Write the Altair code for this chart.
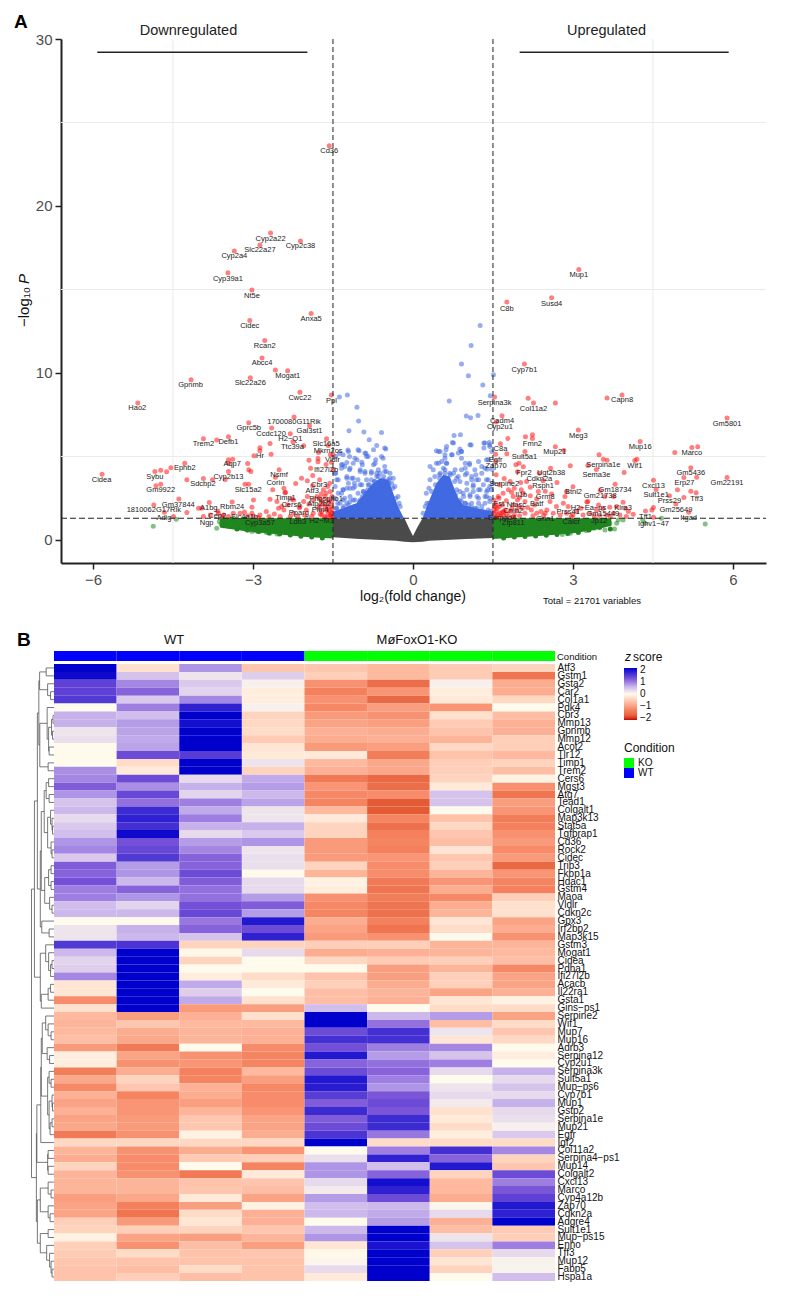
import altair as alt
import pandas as pd

FONT = "Liberation Sans"

# ---------- volcano data (log2FC, -log10 P) ----------
red_labeled = [
 (-1.57,23.6),(-2.67,18.38),(-2.87,17.66),(-2.11,17.9),(-3.35,17.3),(-3.47,16.0),(-3.02,14.97),
 (3.11,16.2),(2.6,14.5),(1.76,14.25),
 (-5.16,8.2),(-4.16,9.6),(-1.91,13.56),(-3.06,13.14),(-2.78,11.94),(-2.83,10.9),(-2.35,10.14),(-2.58,10.18),
 (-3.05,9.72),(-2.12,8.84),(-1.53,8.68),(-2.23,7.36),(-3.08,7.02),(-1.94,6.84),(-2.65,6.7),(-2.3,6.36),
 (-2.25,5.88),(-3.93,6.06),(-3.46,6.18),(-3.68,5.98),(-1.62,6.06),(-1.59,5.66),(-1.5,5.1),(-3.38,4.84),
 (-1.63,4.52),(-4.28,4.6),(-5.83,3.94),(-4.84,4.1),(-4.73,3.34),(-3.93,3.68),(-3.46,4.1),(-3.08,3.34),
 (-2.51,4.2),(-2.58,3.76),(-1.75,3.6),(-1.88,3.24),(-2.39,2.84),(-1.63,2.8),(-1.75,2.5),(-2.28,2.46),
 (-2.13,1.92),(-1.74,2.1),(-1.71,1.48),(-2.16,1.4),(-3.16,1.68),(-3.66,1.74),(-3.39,2.28),(-3.82,2.24),
 (-4.39,2.46),(-4.86,2.1),(-4.66,1.66),
 (3.92,8.68),(3.64,8.5),(2.09,10.54),(1.53,8.56),(2.26,8.2),(2.16,8.48),(2.67,8.2),(1.67,7.44),(1.56,7.06),
 (5.89,7.3),(3.1,6.58),(2.24,6.3),(2.11,6.18),(2.24,6.08),(4.26,5.9),(1.64,5.76),(2.67,5.58),(2.83,5.36),
 (5.23,5.54),(5.34,5.58),(4.91,5.24),(2.1,5.3),(1.55,5.14),(1.55,4.72),(4.2,4.84),(4.16,4.76),(3.57,4.84),
 (3.64,4.78),(3.49,5.1),(3.44,4.22),(5.21,4.32),(5.08,3.74),(5.89,3.74),(5.32,3.76),(1.99,4.6),(1.93,4.5),
 (2.07,4.38),(2.58,4.3),(2.37,4.0),(2.44,3.54),(1.71,3.68),(3.79,3.34),(4.51,3.58),(4.56,3.02),(5.31,2.82),
 (5.21,2.92),(4.81,2.64),(5.08,2.54),(4.96,3.0),(3.51,2.96),(3.0,3.18),(2.48,2.92),(2.03,3.0),(1.96,2.4),
 (2.32,2.46),(1.61,2.5),(1.88,2.1),(3.26,2.28),(3.94,2.26),(4.93,2.16),(3.56,1.88),(2.91,2.0),(4.36,1.74),
 (5.17,1.66),(4.51,1.36),(1.67,1.66),(1.88,1.36),(2.48,1.6),(2.97,1.4),(3.5,1.46),
]
red_left = [
 (-2.68,5.78),(-2.66,5.14),(-2.87,5.52),(-2.87,5.34),(-2.98,5.04),(-2.05,5.64),(-3.1,4.58),(-3.08,4.2),
 (-3.04,4.1),(-3.46,4.8),(-3.46,4.6),(-1.95,4.78),(-1.78,4.88),(-1.78,4.68),(-1.92,4.3),(-1.88,3.86),
 (-1.98,3.54),(-2.09,3.7),(-2.2,3.38),(-1.77,5.24),(-1.53,4.66),(-1.5,4.2),(-1.55,5.1),(-4.73,4.18),
 (-4.62,4.08),(-4.54,4.32),(-4.82,3.24),(-4.24,3.6),(-3.76,3.6),(-3.52,3.62),(-3.15,3.34),(-2.63,3.0),
 (-2.42,3.1),(-2.4,2.84),(-2.68,2.44),(-2.99,2.4),(-3.02,1.96),(-2.52,1.9),(-2.46,2.0),(-2.42,1.8),
 (-2.24,2.4),(-2.12,2.0),(-1.98,2.6),(-1.87,2.4),(-1.68,3.0),(-1.65,2.6),(-1.55,2.9),(-1.52,2.6),
 (-1.59,2.4),(-1.68,2.2),(-1.77,1.9),(-1.62,1.8),(-1.52,2.0),(-1.71,1.7),(-1.59,1.6),(-1.52,1.6),
 (-1.65,1.4),(-1.54,1.4),(-1.87,1.6),(-2.0,1.8),(-2.03,1.5),(-2.24,1.6),(-2.3,1.4),(-2.49,1.4),
 (-2.75,1.7),(-2.87,1.5),(-3.02,1.6),(-3.0,1.4),(-3.24,1.6),(-3.37,1.6),(-3.46,1.4),(-3.55,1.5),
 (-3.58,1.4),(-3.65,1.6),(-3.8,1.5),(-3.93,1.4),(-4.02,1.9),(-3.96,1.9),(-4.24,1.64),(-4.49,1.4),
 (-1.6,3.2),(-1.72,2.75),(-1.56,3.4),(-1.8,2.6),(-1.58,2.2),(-1.65,2.0),(-1.74,1.55),(-1.56,1.75),
 (-1.6,1.95),(-1.52,1.85),(-1.52,2.3),(-1.72,2.35),(-2.7,1.4),(-2.9,1.35),(-3.1,1.45),(-2.6,1.55),
 (-1.9,1.4),(-1.95,2.15),(-2.05,2.3),(-2.35,2.1),(-2.55,2.3),(-1.55,1.5),(-1.52,1.35),(-1.62,1.35),
]
red_right = [
 (1.78,6.08),(1.76,5.16),(1.56,3.9),(1.82,3.5),(1.96,4.08),(2.13,3.5),(2.02,3.44),(2.07,2.8),(1.79,3.0),
 (1.69,2.8),(1.88,2.6),(1.6,2.6),(1.54,2.0),(1.56,1.7),(1.63,1.6),(1.73,1.8),(1.82,1.7),(1.6,1.5),(1.98,2.0),
 (2.1,2.3),(2.22,1.8),(2.32,1.6),(2.1,1.6),(2.51,1.8),(2.63,1.6),(2.69,2.0),(2.7,3.44),(2.35,2.9),(2.85,2.6),
 (2.88,2.9),(2.95,4.44),(3.28,4.46),(3.6,2.6),(3.76,2.6),(3.28,2.3),(3.48,2.1),(3.82,2.0),(3.98,1.9),
 (4.13,1.54),(4.04,1.7),(4.48,1.8),(4.51,1.94),(3.96,4.04),(2.76,1.5),(2.88,1.6),(3.07,1.7),(3.19,1.5),
 (3.32,1.6),(3.63,1.5),(3.76,1.6),(3.88,1.5),(3.69,1.96),(3.44,1.8),(2.57,2.3),(2.82,2.2),(1.55,1.4),
 (1.52,1.6),(1.52,1.85),(1.58,1.9),(1.65,1.4),(1.55,2.15),(1.62,2.0),(1.7,1.45),(1.68,2.1),(1.75,1.55),
 (1.8,1.4),(1.85,1.85),(1.9,1.5),(1.95,1.75),(2.0,1.45),(2.05,1.9),(2.15,1.95),(2.25,1.45),(2.28,2.1),
 (2.4,1.7),(2.45,1.45),(1.52,2.4),(1.62,3.3),(1.75,2.35),(1.9,3.1),(2.0,2.55),(2.2,2.65),(1.85,2.85),
 (3.0,1.5),(3.15,1.9),(3.4,1.45),(3.7,1.4),(4.0,1.4),(2.2,3.15),(2.6,2.75),(1.56,1.35),(1.7,1.7),
]
blue_left = [
 (-1.38,8.56),(-1.23,8.68),(-1.05,7.94),(-1.02,7.12),(-1.2,6.54),(-0.92,6.46),(-0.59,6.44),(-0.82,6.0),
 (-0.51,5.44),(-0.68,5.66),(-1.22,5.38),(-1.38,5.18),(-1.01,5.34),(-0.88,5.18),(-1.19,5.0),(-1.24,4.64),
 (-1.32,4.52),(-1.34,4.3),(-1.19,4.2),(-1.12,4.6),(-0.84,5.0),(-0.74,4.5),(-0.59,5.0),(-0.53,4.4),
 (-0.43,4.0),(-0.37,3.7),(-0.99,4.2),(-0.9,4.1),(-0.78,4.0),(-0.68,3.8),(-0.62,4.0),(-0.56,3.6),
 (-0.46,3.6),(-1.12,3.7),(-1.24,3.7),(-1.31,3.0),(-1.43,3.6),(-1.46,3.2),(-1.4,2.8),(-1.24,3.1),
 (-1.12,3.1),(-0.99,3.3),(-0.93,2.9),(-0.84,3.3),(-1.18,2.6),(-1.09,2.4),(-0.99,2.4),(-1.31,2.4),
 (-1.41,2.2),(-1.24,2.2),(-1.44,1.9),(-1.31,1.9),(-1.18,1.9),(-1.09,2.0),(-0.99,1.9),(-0.9,2.0),
 (-0.34,3.2),(-0.28,2.6),(-0.24,2.0),(-1.38,1.6),(-1.24,1.6),(-1.12,1.6),(-0.99,1.6),(-1.46,2.5),
 (-1.45,5.0),(-0.7,4.8),(-1.05,4.8),(-0.95,4.5),(-1.45,4.0),(-1.1,3.4),(-0.72,3.5),(-0.5,4.1),
 (-1.31,3.0),(-1.21,3.4),(-1.15,3.7),(-1.24,3.8),(-0.99,4.1),(-0.9,4.0),(-0.78,4.1),(-0.68,4.0),
 (-1.03,3.6),(-0.96,3.3),(-0.87,3.6),(-0.78,3.6),(-0.65,4.2),(-0.53,4.1),(-0.43,3.7),(-0.4,3.4),
 (-1.18,3.1),(-1.09,3.2),(-1.28,2.5),(-1.37,2.2),(-1.43,1.9),(-1.21,2.1),(-1.12,2.4),(-1.03,2.8),
 (-0.93,2.9),(-1.34,2.8),(-1.4,3.6),(-1.46,4.0),(-1.28,4.4),(-1.18,4.3),(-1.34,4.5),(-0.96,4.66),
 (-1.09,4.9),(-0.87,5.0),(-0.74,5.4),(-0.9,5.2),(-0.71,4.6),(-0.56,4.9),(-0.53,5.5),(-1.03,5.4),
 (-1.21,5.3),(-1.31,5.1),(-1.42,1.5),(-1.35,1.7),(-1.28,1.5),(-1.22,1.8),(-1.15,1.5),(-1.1,2.0),
 (-1.05,1.9),(-1.0,2.3),(-0.95,2.6),(-0.9,2.8),(-0.85,3.0),(-0.82,3.3),(-0.72,3.5),(-0.65,3.8),
 (-0.55,3.8),(-0.45,3.4),(-0.38,3.1),(-0.32,2.5),(-0.26,2.2),(-1.3,2.0),(-1.18,2.3),
]
blue_right = [
 (1.26,12.84),(1.09,11.64),(0.91,10.54),(1.04,9.84),(1.51,9.9),(1.31,9.28),(1.45,8.64),(0.68,8.32),
 (1.22,7.46),(1.0,7.42),(1.08,7.32),(0.77,6.26),(0.89,6.3),(1.33,5.8),(1.43,5.84),(0.74,5.84),(1.09,5.68),
 (0.88,5.44),(0.44,5.34),(0.51,5.3),(0.62,5.4),(1.33,5.5),(1.44,5.6),(1.48,5.3),(0.91,5.3),(0.73,5.1),
 (0.6,4.9),(0.48,4.6),(0.63,4.6),(1.06,4.6),(1.23,4.7),(1.38,4.8),(0.91,4.9),(0.32,4.4),(0.38,4.2),
 (0.57,4.3),(0.79,4.2),(0.98,4.3),(1.06,4.5),(1.16,4.2),(1.29,4.4),(1.39,4.24),(1.48,4.24),(0.69,4.0),
 (0.5,3.9),(0.32,3.6),(1.1,3.6),(1.23,3.6),(1.41,3.6),(1.01,3.4),(0.88,3.5),(1.13,3.3),(1.32,3.3),
 (1.01,3.0),(1.13,2.9),(1.26,3.0),(1.38,2.9),(1.47,3.0),(0.95,2.6),(1.07,2.6),(1.2,2.6),(1.35,2.6),
 (1.44,2.5),(0.98,2.2),(1.1,2.2),(1.23,2.2),(1.35,2.2),(0.26,2.2),(0.23,2.0),(0.19,1.6),(0.92,2.0),
 (1.2,1.9),(0.85,3.8),(1.4,3.0),(0.25,2.8),(0.3,3.1),(0.98,3.9),(1.18,3.9),(0.88,2.9),(1.5,3.4),
 (0.44,4.6),(0.54,4.7),(0.63,4.6),(0.6,5.1),(0.48,5.3),(0.73,5.1),(0.63,5.6),(0.76,5.8),(0.85,5.2),
 (0.91,5.3),(1.07,5.7),(1.35,5.8),(1.44,5.7),(0.98,4.6),(0.91,4.2),(1.01,4.0),(1.1,3.8),(1.19,3.6),
 (1.29,4.0),(1.35,4.3),(1.41,4.8),(1.13,3.2),(1.23,3.0),(1.38,3.6),(1.44,3.2),(0.82,3.0),(0.94,2.8),
 (1.07,2.7),(1.23,2.5),(1.38,2.6),(1.44,2.3),(0.91,2.3),(1.04,2.1),(1.16,1.9),(1.29,2.0),(1.41,1.8),
 (0.85,2.1),(0.76,4.0),(0.82,3.7),(0.6,4.2),(0.51,4.0),(0.41,3.8),(0.3,2.2),(0.35,2.9),(0.42,3.3),
 (0.5,3.7),(0.6,4.0),(0.7,3.9),(0.78,3.5),(0.8,2.7),(0.88,2.4),(0.98,2.2),(1.1,1.95),(1.3,1.75),(1.45,1.7),
]
green_pts = [
 (5.48,0.96),(4.66,1.3),(4.31,1.2),(4.35,1.0),(-4.44,1.24),(-4.87,0.82),(-3.68,0.7),(-3.63,1.1),(-3.49,1.2),
 (-3.46,0.8),(-3.33,0.8),(-3.27,1.1),(-3.12,0.6),(-3.02,0.5),(-2.87,0.5),(-2.68,0.4),(-2.55,0.35),(-3.6,0.95),
 (-3.4,1.0),(-3.2,0.75),(-2.95,0.55),(-2.75,0.45),
 (3.78,0.66),(3.6,0.6),(3.48,0.8),(3.69,1.0),(3.82,1.0),(3.85,1.2),(3.57,1.1),(3.94,1.2),(3.4,0.7),
 (3.25,0.55),(3.1,0.45),(2.95,0.4),(2.8,0.32),
]
green_edge = [
 (-3.55,0.85),(-3.3,0.65),(-3.1,0.6),(-2.9,0.5),(-2.7,0.42),(-2.5,0.35),(-2.3,0.3),(-2.1,0.22),(-1.9,0.18),
 (-1.7,0.12),(1.7,0.12),(1.9,0.18),(2.1,0.2),(2.3,0.24),(2.5,0.28),(2.7,0.33),(2.9,0.38),(3.1,0.46),
 (3.3,0.6),(3.5,0.75),(3.7,0.66),(-3.4,1.25),(-3.15,1.25),(-3.55,1.15),
]
gray_x  = [-1.5,-1.0,-0.6,-0.32,-0.16,-0.08,0.0,0.08,0.18,0.3,0.6,1.0,1.5]
gray_lo = [0.16,0.05,0.0,-0.05,-0.1,-0.12,-0.14,-0.12,-0.1,-0.05,0.0,0.05,0.12]
gray_hi = [1.3,1.3,1.3,1.3,1.3,0.75,0.24,0.75,1.3,1.3,1.3,1.3,1.3]
green_l_x  = [-3.62,-3.2,-2.8,-2.4,-2.0,-1.5]
green_l_lo = [0.75,0.55,0.42,0.3,0.18,0.08]
green_l_hi = [1.3,1.3,1.3,1.3,1.3,1.3]
green_r_x  = [1.5,2.0,2.5,3.0,3.4,3.72]
green_r_lo = [0.05,0.16,0.26,0.4,0.6,0.85]
green_r_hi = [1.3,1.3,1.3,1.3,1.3,1.3]
blue_core_l_x  = [-1.49,-1.31,-1.06,-0.93,-0.78,-0.62,-0.46,-0.37,-0.28,-0.17]
blue_core_l_lo = [1.3,1.3,1.3,1.3,1.3,1.3,1.3,1.3,1.3,1.3]
blue_core_l_hi = [1.7,1.9,2.2,2.7,3.3,3.7,3.6,2.8,2.0,1.3]
blue_core_r_x  = [0.18,0.26,0.35,0.44,0.57,0.69,0.76,0.85,0.94,1.19,1.5]
blue_core_r_lo = [1.3,1.3,1.3,1.3,1.3,1.3,1.3,1.3,1.3,1.3,1.3]
blue_core_r_hi = [1.3,2.0,2.7,3.4,3.9,3.8,3.2,2.5,2.1,1.9,1.7]
volcano_labels = [
 ("Cd36",-1.57,23.28),("Cyp2a22",-2.67,18.03),("Slc22a27",-2.87,17.37),("Cyp2c38",-2.11,17.6),("Cyp2a4",-3.35,17.0),
 ("Cyp39a1",-3.47,15.65),("Nt5e",-3.02,14.63),("Mup1",3.11,15.85),("Susd4",2.6,14.14),("C8b",1.76,13.83),
 ("Hao2",-5.17,7.9),("Gpnmb",-4.17,9.26),("Anxa5",-1.91,13.24),("Cidec",-3.06,12.82),("Rcan2",-2.78,11.6),
 ("Abcc4",-2.83,10.58),("Mogat1",-2.35,9.8),("Slc22a26",-3.05,9.42),("Cwc22",-2.12,8.52),("Ppl",-1.53,8.34),
 ("1700080G11Rik",-2.23,7.04),("Gprc5b",-3.08,6.68),("Gal3st1",-1.94,6.52),("Ccdc120",-2.66,6.36),("H2\u2212Q1",-2.3,6.02),
 ("Ttc39a",-2.26,5.56),("Trem2",-3.93,5.74),("Defb1",-3.46,5.84),("Slc16a5",-1.63,5.74),("Mkrn2os",-1.59,5.32),
 ("Hr",-2.87,5.0),("Vldlr",-1.51,4.76),("Aqp7",-3.39,4.52),("Ifi27l2b",-1.63,4.18),("Ephb2",-4.28,4.3),
 ("Cidea",-5.84,3.6),("Sybu",-4.84,3.76),("Gm9922",-4.73,3.0),("Sdcbp2",-3.94,3.34),("Cyp2b13",-3.46,3.76),
 ("Slc15a2",-3.09,3.02),("Nsmf",-2.51,3.86),("Corin",-2.58,3.42),("Cbr3",-1.76,3.28),("Atf3",-1.89,2.92),
 ("Timp1",-2.39,2.54),("Phospho1",-1.63,2.48),("Atp2b2",-1.76,2.18),("Cers6",-2.28,2.12),("Pparg",-2.14,1.6),
 ("Plin4",-1.74,1.78),("H2\u2212M3",-1.71,1.16),("Ldb3",-2.16,1.06),("Cyp3a57",-2.87,1.02),("Slc4a1b",-3.16,1.36),
 ("Cep2",-3.67,1.42),("Ngp",-3.87,1.0),("Rbm24",-3.39,1.96),("A1bg",-3.83,1.9),("Gm37844",-4.4,2.12),
 ("1810062G17Rik",-4.86,1.78),("Adig",-4.67,1.32),
 ("Capn8",3.92,8.36),("Cyp7b1",2.09,10.2),("Serpina3k",1.53,8.2),("Col11a2",2.26,7.86),("Cadm4",1.67,7.1),
 ("Cyp2u1",1.63,6.74),("Gm5801",5.89,6.96),("Meg3",3.1,6.24),("Fmn2",2.24,5.76),("Mup16",4.26,5.56),
 ("C8a",1.64,5.44),("Mup21",2.66,5.24),("Marco",5.23,5.2),("Sult5a1",2.09,4.98),("Egfr",1.55,4.8),
 ("Zap70",1.56,4.4),("Wif1",4.16,4.42),("Serpina1e",3.57,4.5),("Sema3e",3.44,3.88),("Gm5436",5.21,4.0),
 ("Erp27",5.09,3.42),("Gm22191",5.89,3.42),("Fpr2",2.08,4.02),("Ugt2b38",2.59,3.98),("Cdkn2a",2.37,3.64),
 ("Rsph1",2.44,3.22),("Serpine2",1.71,3.34),("Gm18734",3.79,3.0),("Cxcl13",4.51,3.24),("Sult1e1",4.56,2.7),
 ("Tff3",5.32,2.48),("Prss29",4.81,2.32),("Gm21738",3.51,2.62),("Btnl2",3.01,2.86),("Grm8",2.48,2.6),
 ("Il1b",2.03,2.68),("Nfasc",1.94,2.08),("Batf",2.32,2.14),("Fst",1.61,2.18),("Cnih2",1.88,1.76),
 ("H2\u2212Ea\u2212ps",3.29,1.94),("Klra3",3.94,1.92),("Gm25649",4.93,1.82),("Gm15449",3.56,1.56),("Prss41",2.91,1.66),
 ("Tff1",4.36,1.4),("Itgad",5.17,1.32),("Ighv1\u221247",4.51,0.96),("Serpad4",1.67,1.34),("Zfp811",1.88,1.0),
 ("Gnn1",2.48,1.28),("Calcr",2.97,1.1),("Jp12",3.49,1.14),
]
grid_x = [-4.5, 4.5]
grid_y = [5, 15, 25]
v_cut = [-1.5, 1.5]
h_cut = [1.3]
bars = [(-5.92,-1.98,29.2),(2.0,5.92,29.2)]
bar_titles = [("Downregulated",-4.21,30.45),("Upregulated",3.63,30.45)]

# ---------- heatmap data ----------
genes = ["Atf3","Gstm1","Gsta2","Car2","Col1a1","Pdk4","Cbr3","Mmp13","Gpnmb","Mmp12","Acot2","Tlr12","Timp1","Trem2",
 "Cers6","Mgst3","Atg7","Tead1","Colgalt1","Map3k13","Stat5a","Tgfbrap1","Cd36","Rock2","Cidec","Trib3","Fkbp1a","Hdac1",
 "Gstm4","Maoa","Vldlr","Cdkn2c","Gpx3","Irf2bp2","Map3k15","Gstm3","Mogat1","Cidea","Pdha1","Ifi27l2b","Acacb","Il22ra1",
 "Gsta1","Gins\u2212ps1","Serpine2","Wif1","Mup7","Mup16","Adrb3","Serpina12","Cyp2u1","Serpina3k","Sult5a1","Mup\u2212ps6",
 "Cyp7b1","Mup1","Gstp2","Serpina1e","Mup21","Egfr","Igf2","Col11a2","Serpina4\u2212ps1","Mup14","Colgalt2","Cxcl13","Marco",
 "Cyp4a12b","Zap70","Cdkn2a","Adgre4","Sult1e1","Mup\u2212ps15","Enho","Tff3","Mup12","Fabp5","Hspa1a"]
samples = ["WT1","WT2","WT3","WT4","KO1","KO2","KO3","KO4"]
z = [
 [2.2,-0.3,0.85,-0.6,-0.6,-0.75,-0.55,-0.45],[2.1,0.5,0.2,0.4,-0.5,-0.75,-0.55,-1.55],[1.5,0.95,0.45,0.1,-1.2,-1.65,0.1,-0.9],
 [1.5,1.2,0.35,-0.15,-1.4,-1.15,-0.15,-0.9],[1.6,0.45,0.95,-0.15,-1.2,-1.7,-0.2,-0.4],[0,1.0,1.85,0.1,-1.3,-1.05,-1.15,0],
 [0.65,0.55,2.2,-0.45,-1.1,-1.2,-0.3,-0.7],[0.65,0.8,2.05,-0.4,-1.0,-1.05,-0.55,-0.85],[0.2,0.75,2.2,-0.35,-0.85,-0.9,-0.65,-0.85],
 [0.25,0.7,2.2,-0.55,-0.9,-0.85,-0.8,-0.5],[0,0.75,2.2,-0.25,-1.1,-1.05,-0.4,-0.5],[0,1.4,1.55,-0.2,-0.2,-1.45,-0.65,-0.75],
 [0,-0.35,2.2,0.2,-0.75,-0.95,-0.5,-0.45],[0.9,-0.2,2.2,-0.45,-0.85,-0.95,-0.5,-0.7],[0.95,1.4,0.3,0.7,-1.5,-1.7,-0.45,-0.1],
 [1.25,0.9,0.65,0.8,-1.15,-1.65,-0.2,-1.2],[0.85,1.45,0.35,0.6,-1.3,-1.25,0.5,-1.55],[0.5,1.1,1.0,0.75,-1.35,-1.9,0.5,-1.05],
 [0.6,1.75,0.7,0.2,-0.75,-1.9,0,-1.15],[0.3,1.85,1.0,0.2,-0.2,-1.35,-0.65,-1.45],[0.45,1.7,0.65,0.65,-0.45,-1.6,-0.4,-1.4],
 [0.55,2.1,0.3,0.45,-0.45,-1.4,-0.6,-1.2],[0.85,1.35,0.8,0.85,-1.1,-1.35,-0.7,-1.1],[0.95,1.45,0.95,0.2,-1.1,-1.4,-0.25,-1.25],
 [0.45,1.6,1.2,0.25,-1.1,-1.15,-0.6,-1.1],[1.25,0.8,1.2,0.25,-0.45,-1.25,-0.5,-1.7],[1.2,0.85,1.4,0,-0.8,-1.25,-0.8,-1.15],
 [1.35,0.6,1.25,0.3,-0.1,-1.5,-1.15,-1.35],[1.0,1.2,1.1,0.3,-0.15,-1.55,-0.9,-1.4],[1.0,0.85,1.1,0.8,-1.2,-1.45,-1.3,-0.5],
 [0.55,0.35,1.35,1.25,-1.3,-1.55,-0.9,-0.3],[0.6,0.6,1.45,0.8,-1.35,-1.6,-0.8,-0.3],[0,-0.02,1.05,1.95,-0.9,-1.4,-0.25,-1.0],
 [0.2,0.65,1.2,1.4,-1.0,-1.55,-0.35,-0.9],[0.2,0.6,0.5,1.85,-1.1,-1.2,0.02,-1.2],[1.6,1.65,-0.45,-0.45,-0.5,-0.5,-0.8,-0.8],
 [0.6,2.2,-0.05,0.3,-0.9,-0.85,-0.8,-0.75],[0.35,2.2,-0.45,0,-0.4,-0.55,-0.5,-0.7],[0.4,2.2,0,0,0,-1.05,-0.8,-1.3],
 [0.95,2.2,-0.15,-0.35,-0.65,-1.05,-0.5,-1.0],[-0.25,2.2,0.7,-0.2,-0.5,-0.9,-0.5,-1.0],[-0.25,2.2,0.4,0,-0.7,-0.8,-1.0,-0.85],
 [-1.25,2.2,0.7,-0.3,-0.7,-0.85,-0.25,-0.1],[-0.3,2.2,-1.1,-1.05,0.55,0,-0.35,-0.35],[-0.75,-1.05,-0.85,-0.3,2.2,0.6,0.8,-1.0],
 [-0.8,-0.6,-0.75,-0.75,2.2,1.1,-0.7,-0.35],[-0.75,-0.9,-0.8,-0.85,1.4,1.7,0.2,-0.6],[-0.7,-0.95,-0.8,-0.85,1.7,1.7,-0.25,-0.4],
 [-1.1,-1.5,0,-1.25,1.35,1.0,0.95,0],[-0.15,-1.0,-1.2,-1.35,1.95,0.8,0.5,-0.15],[-0.15,-1.2,-1.15,-1.35,1.2,1.1,1.0,0],
 [-1.45,-0.9,-1.4,-0.75,1.4,1.2,0.3,0.65],[-0.95,-0.45,-1.35,-1.05,1.95,1.0,0,0.3],[-1.3,-0.6,-0.85,-1.3,1.9,0.85,0.2,0.5],
 [-0.85,-1.35,-0.9,-1.25,1.55,1.3,0.3,0.3],[-1.0,-1.15,-1.05,-1.25,1.25,1.4,0.15,0.65],[-0.85,-1.15,-0.8,-1.15,1.75,1.3,-0.3,0.3],
 [-1.0,-1.1,-0.6,-1.0,1.25,1.75,-0.2,0.25],[-0.95,-1.1,-0.6,-1.0,1.4,1.75,-0.35,0.1],[-1.5,-1.2,-0.1,-0.9,1.65,1.05,-0.15,0.45],
 [-0.4,-0.4,-0.4,-0.4,2.2,-0.35,-0.35,-0.35],[-0.8,-1.2,-0.9,-1.15,0,1.0,1.7,0.95],[-0.9,-1.25,-0.55,-0.5,0.25,1.85,1.2,-0.45],
 [-0.45,-1.25,0,-1.35,0.85,0.55,1.95,-0.6],[-0.8,-1.2,-1.5,-0.2,0.85,1.2,-0.45,1.4],[-0.8,-0.8,-0.65,-0.6,0.3,2.05,-0.75,1.0],
 [-0.8,-0.8,-0.6,-0.7,0.15,1.85,-0.75,1.3],[-1.05,-0.95,-0.2,-1.0,0.8,1.4,-0.9,1.5],[-1.0,-1.4,-1.05,-0.1,0.55,0.6,0.05,1.95],
 [-1.0,-1.55,-0.35,-0.85,0.6,0.7,0.3,1.85],[-0.5,-1.1,-0.25,-0.85,0,0.8,-0.85,2.2],[-0.45,-0.5,-0.45,-0.6,0.6,2.2,-0.7,-0.55],
 [-0.1,-1.0,-1.05,-0.8,0.85,2.2,0.2,-0.5],[-0.5,-1.2,-0.7,-1.05,-0.25,2.0,0.5,1.0],[-0.55,-0.35,-0.65,-0.6,-0.05,2.2,-0.5,0.3],
 [-0.6,-0.65,-0.65,-0.65,0.05,2.2,-0.25,0.08],[-0.65,-0.7,-0.35,-0.65,0.3,2.2,-0.45,0.08],[-0.65,-0.5,-0.7,-0.65,-0.2,2.2,0,0.55],
]

# dendrogram: [merge height, left, right], leaves are row numbers
g0_4 = [14.7,[8,0,1],[6.5,2,[3.5,3,4]]]
g5_11 = [7,5,[5.5,[2.5,[1,6,7],[1.5,8,9]],[5,10,11]]]
g5_13 = [14.5,g5_11,[6,12,13]]
g14_17 = [8,[5.5,14,15],[5,16,17]]
g18_24 = [6.5,[3.5,18,[2,19,[1.5,20,21]]],[3,22,[2,23,24]]]
g25_31 = [9.5,[5.5,[3,25,26],[3,27,28]],[4.5,29,[2,30,31]]]
g32_34 = [12.5,32,[5,33,34]]
a12 = [14,[13,[10,g14_17,g18_24],g25_31],g32_34]
a1 = [17,[15.5,g0_4,g5_13],a12]
a2 = [14,[8.5,35,[5.5,36,[3.5,[2,37,38],39]]],[13,[6,[3.5,40,41],42],43]]
g44_47 = [8.5,44,[6,45,[3,46,47]]]
g48_50 = [7,48,[4.5,49,50]]
g51_53 = [5,51,[3,52,53]]
g54_59 = [5,[2,54,[1.5,55,56]],[4,[2,57,58],59]]
g44_59 = [13,[12,g44_47,g48_50],[6.5,g51_53,g54_59]]
b1 = [17.5,[13.5,g44_59,60],[6.5,[6,61,62],[6,63,64]]]
b2 = [17,[14,[6,65,[3,66,67]],[6,68,[4,69,70]]],[14,[6,71,72],[7.5,73,[4.5,74,[3,75,[2,76,77]]]]]]
tree = [23,[20,a1,a2],[18,b1,b2]]

segments = []
def walk(node):
    if not isinstance(node, list):
        return 0.0, node + 0.5
    h, l, r = node
    hl, yl = walk(l)
    hr, yr = walk(r)
    segments.append(dict(x=h, x2=h, y=yl, y2=yr))
    segments.append(dict(x=hl, x2=h, y=yl, y2=yl))
    segments.append(dict(x=hr, x2=h, y=yr, y2=yr))
    return h, (yl + yr) / 2
walk(tree)

# ---------- volcano ----------
W, H = 705, 524
xs = alt.Scale(domain=[-6.6, 6.62], nice=False, zero=False)
ys = alt.Scale(domain=[-1.38, 30], nice=False, zero=False)
ax = dict(grid=False, domainWidth=2, domainColor="#222222", tickColor="#222222", tickWidth=1.5, tickSize=6,
          labelColor="#4d4d4d", labelFontSize=15, labelPadding=3, labelFont=FONT, title=None)
X = lambda f: alt.X(f, scale=xs, axis=alt.Axis(values=[-6,-3,0,3,6], **ax))
Y = lambda f: alt.Y(f, scale=ys, axis=alt.Axis(values=[0,10,20,30], **ax))

def pts(rows, color, op=0.5, size=25):
    df = pd.DataFrame(rows, columns=["x","y"])
    return alt.Chart(df).mark_circle(color=color, opacity=op, size=size, stroke=None).encode(x=X("x:Q"), y=Y("y:Q"))

def band(xv, lo, hi, color):
    df = pd.DataFrame(dict(x=xv, lo=lo, hi=hi))
    return alt.Chart(df).mark_area(color=color, opacity=1).encode(x=X("x:Q"), y=Y("lo:Q"), y2="hi:Q")

def note(text, px, py, size=10, color="#111111", align="left", **kw):
    df = pd.DataFrame(dict(t=[text]))
    return alt.Chart(df).mark_text(font=kw.pop("font", FONT), fontSize=size, color=color, align=align,
                                   baseline="middle", **kw).encode(x=alt.value(px), y=alt.value(py), text="t:N")

grid_v = alt.Chart(pd.DataFrame(dict(v=grid_x))).mark_rule(color="#ebebeb", strokeWidth=1).encode(
    x=X("v:Q"), y=alt.value(0), y2=alt.value(H))
grid_h = alt.Chart(pd.DataFrame(dict(v=grid_y))).mark_rule(color="#ebebeb", strokeWidth=1).encode(
    y=Y("v:Q"), x=alt.value(0), x2=alt.value(W))
cut_v = alt.Chart(pd.DataFrame(dict(v=v_cut))).mark_rule(color="#222222", strokeWidth=1, strokeDash=[5,3]).encode(
    x=X("v:Q"), y=alt.value(0), y2=alt.value(H))
cut_h = alt.Chart(pd.DataFrame(dict(v=h_cut))).mark_rule(color="#222222", strokeWidth=1, strokeDash=[6,3]).encode(
    y=Y("v:Q"), x=alt.value(0), x2=alt.value(W))
bar_df = pd.DataFrame(bars, columns=["a","b","y"])
bar_lines = alt.Chart(bar_df).mark_rule(color="#222222", strokeWidth=1.5).encode(x=X("a:Q"), x2="b:Q", y=Y("y:Q"))
bar_txt = alt.Chart(pd.DataFrame(bar_titles, columns=["t","x","y"])).mark_text(
    font=FONT, fontSize=14.5, color="#222222").encode(x=X("x:Q"), y=Y("y:Q"), text="t:N")
lab = alt.Chart(pd.DataFrame(volcano_labels, columns=["t","x","y"])).mark_text(
    font=FONT, fontSize=7.5, color="#222222", baseline="middle").encode(x=X("x:Q"), y=Y("y:Q"), text="t:N")

volcano = alt.layer(
    grid_v, grid_h,
    band(gray_x, gray_lo, gray_hi, "#4a4a4a"),
    band(green_l_x, green_l_lo, green_l_hi, "#1f851f"),
    band(green_r_x, green_r_lo, green_r_hi, "#1f851f"),
    pts(green_pts, "#228b22", 0.55),
    pts(green_edge, "#1f851f", 1),
    band(blue_core_l_x, blue_core_l_lo, blue_core_l_hi, "#4169e1"),
    band(blue_core_r_x, blue_core_r_lo, blue_core_r_hi, "#4169e1"),
    pts(blue_left, "#4169e1", 0.55), pts(blue_right, "#4169e1", 0.55),
    pts(red_labeled, "#ff0000"), pts(red_left, "#ff0000"), pts(red_right, "#ff0000"),
    cut_v, cut_h, bar_lines, bar_txt, lab,
    note("A", -47, -17, size=19, color="#000000", fontWeight="bold"),
    note("\u2212log\u2081\u2080", -37, 268, size=15, align="center", angle=270),
    note("P", -37, 240, size=15, align="center", angle=270, fontStyle="italic"),
    note("log\u2082(fold change)", 352, 558, size=14, align="center"),
    note("Total = 21701 variables", 482, 562, size=9.5),
).properties(width=W, height=H)

# ---------- lower panel: dendrogram + heatmap share one plot area ----------
HEAT_W = 494
dend_lines = alt.Chart(pd.DataFrame(segments)).mark_rule(color="#555555", strokeWidth=0.8).encode(
    x=alt.X("x:Q", scale=alt.Scale(domain=[23.5, 0], range=[-30, -7], nice=False, zero=False), axis=None),
    x2="x2:Q",
    y=alt.Y("y:Q", scale=alt.Scale(domain=[78, 0], nice=False, zero=False), axis=None),
    y2="y2:Q",
)

rows = [dict(gene=g, sample=s, z=z[i][j]) for i, g in enumerate(genes) for j, s in enumerate(samples)]
hx = alt.X("sample:N", sort=samples, axis=None,
           scale=alt.Scale(domain=samples, paddingInner=0, paddingOuter=0, range=[-7, HEAT_W]))
cells = alt.Chart(pd.DataFrame(rows)).mark_rect().encode(
    x=hx,
    y=alt.Y("gene:N", sort=genes, scale=alt.Scale(paddingInner=0, paddingOuter=0),
            axis=alt.Axis(orient="right", title=None, ticks=False, domain=False, labelFontSize=10, labelFont=FONT,
                          labelColor="#111111", labelPadding=2, labelOverlap=False)),
    color=alt.Color("z:Q",
        scale=alt.Scale(domain=[-2.2,-1.9,-1.3,-0.65,0,0.6,1.3,2.2], interpolate="rgb",
                        range=["#cc0000","#e45a35","#f78865","#ffc2aa","#fffbec","#cdb8ec","#7a55d8","#0000cc"]),
        legend=alt.Legend(orient="none", legendX=563, legendY=4, title=None, gradientLength=52, gradientThickness=13,
                          values=[-2,-1,0,1,2], labelFontSize=10, labelFont=FONT, labelColor="#111111",
                          labelOffset=3, gradientStrokeWidth=0)),
)
ann_df = pd.DataFrame(dict(sample=samples, group=["WT"]*4+["KO"]*4))
ann_wt = alt.Chart(ann_df[ann_df.group=="WT"]).mark_rect(color="#0000ff").encode(x=hx, y=alt.value(-13), y2=alt.value(-3))
ann_ko = alt.Chart(ann_df[ann_df.group=="KO"]).mark_rect(color="#00ff00").encode(x=hx, y=alt.value(-13), y2=alt.value(-3))
swatch_names = ["KO","WT"]
swatch_cols = ["#00ff00","#0000ff"]
swatches = [alt.Chart(pd.DataFrame(dict(n=[n]))).mark_rect(color=c).encode(
    x=alt.value(563), x2=alt.value(573), y=alt.value(94+10*i), y2=alt.value(104+10*i)) for i,(n,c) in enumerate(zip(swatch_names,swatch_cols))]

lower = alt.layer(
    dend_lines, cells, ann_wt, ann_ko, *swatches,
    note("B", -44, -24, size=19, color="#000000", fontWeight="bold"),
    note("WT", 113, -24, size=13, align="center"),
    note("M\u00f8FoxO1-KO", 356, -24, size=13, align="center"),
    note("Condition", 496, -7, size=9.5),
    note("z", 564, -7, size=12, fontStyle="italic"),
    note("score", 572, -7, size=12),
    note("Condition", 563, 84, size=12),
    note("KO", 577, 99, size=10),
    note("WT", 577, 109, size=10),
).resolve_scale(x="independent", y="independent", color="independent").properties(width=HEAT_W, height=617)

chart = alt.vconcat(volcano, lower, spacing=25).properties(
    padding=dict(left=6, top=5, right=2, bottom=2), background="white"
).configure_view(stroke=None).configure_text(font=FONT)

chart.save("out.html", embed_options={"renderer": "svg", "actions": False})
